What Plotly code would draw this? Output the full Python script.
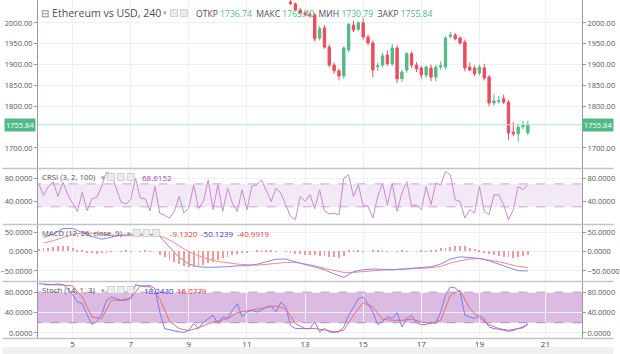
import plotly.graph_objects as go

# ---------------- data ----------------
N_BARS = 102                      # 4h bars visible in the indicator panes
LAST_DAY = 20 + 16 / 24           # time of the last bar (day of month)
bar_days = [LAST_DAY - (N_BARS - 1 - g) / 6 for g in range(N_BARS)]
half_days = bar_days[1::2]        # every second bar (8h sampling)
candle_days = bar_days[-50:]      # candles visible in the price pane

c_open = [2050, 2046, 2031, 2024, 2020, 2019, 1964, 1988, 1942, 1899, 1885, 1873, 1935, 1995, 1985,
          2000, 1966, 1952, 1895, 1899, 1923, 1902, 1940, 1866, 1887, 1926, 1899, 1892, 1875, 1892,
          1870, 1894, 1894, 1968, 1971, 1964, 1954, 1894, 1892, 1880, 1892, 1870, 1808, 1811, 1818,
          1810, 1738, 1734, 1751, 1736.74]
c_high = [2060, 2049, 2036, 2030, 2026, 2024, 1992, 1995, 1948, 1905, 1890, 1944, 2000, 2005, 2004,
          2012, 1972, 1958, 1905, 1928, 1934, 1950, 1946, 1888, 1930, 1932, 1906, 1897, 1898, 1900,
          1899, 1908, 1968, 1978, 1976, 1968, 1960, 1905, 1898, 1900, 1902, 1875, 1830, 1825, 1828,
          1815, 1762, 1758, 1765, 1765.40]
c_low = [2043, 2028, 2020, 2015, 2012, 1955, 1958, 1938, 1893, 1878, 1862, 1866, 1930, 1978, 1980,
         1960, 1946, 1870, 1885, 1893, 1897, 1896, 1856, 1858, 1880, 1892, 1882, 1866, 1868, 1860,
         1860, 1888, 1888, 1963, 1958, 1948, 1884, 1884, 1872, 1874, 1862, 1800, 1802, 1806, 1805,
         1720, 1728, 1715, 1745, 1730.79]
c_close = [2046, 2031, 2024, 2020, 2018, 1962, 1986, 1942, 1899, 1885, 1873, 1940, 1997, 1983, 2000,
           1966, 1952, 1887, 1897, 1921, 1902, 1940, 1866, 1882, 1926, 1899, 1890, 1875, 1894, 1870,
           1894, 1897, 1964, 1971, 1962, 1952, 1892, 1887, 1878, 1894, 1868, 1808, 1813, 1813, 1810,
           1736, 1734, 1750, 1754, 1755.84]
last_price = 1755.84

crsi = [70, 50, 65.5, 73, 48, 73, 51, 36.5, 22, 55.6, 23, 44, 46.4, 65.5, 90.4, 87, 62.6, 38.3, 34.8, 42.3,
        80, 45.2, 44, 23, 65.5, 19, 15, 10.4, 22, 48, 19, 28, 68.4, 26.7, 39.4, 77, 25, 68.4, 22, 62.6,
        36.5, 22, 59.7, 25, 65.5, 68.4, 77, 56.8, 39.4, 62.6, 53.9, 33.6, 13.3, 7.5,
        48, 39.4, 51, 26.7, 59.7, 23, 17.4, 19, 16.2, 80, 85.8, 48, 68.4, 32.5, 30.7, 10.4, 48, 71.3,
        33.6, 71.3, 22, 53.9, 74, 30.7, 33.6, 25, 65.5, 33.6, 71.3, 68.4, 91.6, 85.8, 42.3, 39.4, 10.4,
        25, 19, 65.5, 22, 16.2, 51, 51, 33.6, 7.5, 25, 65.5, 59.7, 68.6152]
crsi_band = [70, 30]

macd_line = [36, 44.4, 59, 59, 48.7, 38.5, 31.6, 36, 41.9, 43.6, 44.4, 44.4, 38.5, 10.3, -15.4, -32.5,
             -39.3, -41, -41, -39.3, -36.8, -36.8, -33.3, -26.5, -19.7, -19.7, -26.5, -33.3, -38.5, -47,
             -58.1, -66.7, -52.1, -47, -45.3, -47, -47, -45.3, -42.7, -41, -39.3, -32.5, -19.7, -13.7,
             -15.4, -18, -24, -32.5, -42.7, -49.6, -50.1239]
macd_signal = [21.4, 27.4, 35.9, 44.4, 47, 47, 44.4, 41.9, 40.2, 40.2, 40.2, 40.2, 40.2, 29.9, 14.5, -0.9,
               -11.1, -19.7, -25.6, -29.9, -32.5, -34.2, -35, -33.3, -29.9, -28.2, -28.2, -31.6, -36.8,
               -43.6, -49.6, -53.9, -53.9, -51.3, -49.6, -47.9, -47, -46.2, -45.3, -43.6, -41.9, -38.5,
               -29.9, -24, -19.7, -18, -21.4, -26.5, -32.5, -38.5, -40.9919]
macd_hist = [6, 8, 10, 12, 14, 15, 13, 10,
             4, 2, -2, -4, -6, -5, -3,
             -1, 0, 1, 2, 1, 0, 1, 2, 1, 0,
             -8, -15, -22, -28, -33, -38, -40, -40, -38, -35,
             -30, -26, -22, -18, -14, -10, -7, -4,
             -2, 0, 2, 3, 3, 2, 1, 0, -1,
             -4, -6, -7, -8, -9, -10, -11, -12, -14, -15, -16, -12,
             2, 4, 3, 1, 0, 2, 3, 2, 1, 0, 1, 2, 1, 0, 1, 2, 1,
             3, 5, 8, 10, 12, 14, 15, 13, 10, 7, 3,
             -3, -6, -9, -12, -14, -15, -16, -14, -12, -9.132]

stoch_k = [96.7, 96.1, 96.7, 94.8, 96.1, 94.8, 86.9, 75.2, 60.8, 57.5, 36, 16.3, 22.9, 36, 64.1, 70.6,
           67.3, 64.1, 64.1, 67.3, 94.8, 92.2, 92.2, 93.5, 86.9, 41.2, 8.5, 5.9, 3.3, 2, 1, 5.2, 18.3,
           8.5, 20.3, 26.8, 34.6, 18.3, 31.4, 28.1, 44.4, 57.5, 31.4, 41.2, 44.4, 41.2, 44.4, 51, 52.9,
           41.2, 60.8, 51, 15, 8.5, 8.5, 7.2, 8.5, 21.6, 2, 8.5, 2, 1, 2, 11.8, 34.6, 51, 67.3, 70.6,
           57.5, 41.2, 16.3, 22.9, 31.4, 28.1, 39.9, 11.8, 28.1, 34.6, 20.3, 16.3, 16.3, 21.6, 18.3,
           41.2, 73.9, 90.2, 88.2, 80.4, 34.6, 31.4, 28.1, 34.6, 26.8, 11.8, 8.5, 7.2, 5.2, 3.3, 4.6,
           8.5, 9.8, 18.243]
stoch_d = [94.8, 94.8, 94.1, 92.2, 70.6, 31.4, 28.1, 64.1, 64.1, 68.6, 92.2, 90.2, 67.3, 22.9, 8.5, 4.6,
           9.8, 18.3, 22.9, 28.1, 39.9, 42.5, 46.4, 50.3, 52.9, 47.7, 18.3, 8.5, 8.5, 5.9, 2, 5.2, 34.6,
           59.5, 51, 26.8, 24.8, 24.8, 26.8, 21.6, 18.3, 24.8, 73.9, 83.7, 47.7, 29.4, 16.3, 8.5, 5.2,
           8.5, 16.0779]
stoch_band = [80, 20]

x_tickvals = [5, 7, 9, 11, 13, 15, 17, 19, 21.27]
x_ticktext = ["5", "7", "9", "11", "13", "15", "17", "19", "21"]
price_ticks = [1700, 1800, 1850, 1900, 1950, 2000]

# ---------------- styling ----------------
UP, DOWN = "#53b987", "#eb4d5c"
FONT = "Open Sans"
W, H = 620, 354
L, R, T, B = 36, 32, 0, 16
PW, PH = W - L - R, H - T - B


def px(x, y):
    return (x - L) / PW, 1 - (y - T) / PH


def dom(top, bottom):
    return [1 - bottom / PH, 1 - top / PH]


fig = go.Figure()

fig.add_trace(go.Candlestick(
    x=candle_days, open=c_open, high=c_high, low=c_low, close=c_close,
    increasing=dict(line=dict(color=UP, width=1), fillcolor=UP),
    decreasing=dict(line=dict(color=DOWN, width=1), fillcolor=DOWN),
    whiskerwidth=0, yaxis="y", showlegend=False, hoverinfo="skip"))
fig.add_trace(go.Scatter(x=[bar_days[0] - 1, 23], y=[last_price, last_price], mode="lines",
                         line=dict(color="#b5e1cb", width=1), yaxis="y5", showlegend=False,
                         hoverinfo="skip"))

# CRSI
for lv in crsi_band:
    fig.add_trace(go.Scatter(x=[3, 23], y=[lv, lv], mode="lines",
                             line=dict(color="#c9a3cf", width=1, dash="dash"),
                             yaxis="y6", showlegend=False, hoverinfo="skip"))
fig.add_trace(go.Scatter(x=bar_days, y=crsi, mode="lines", line=dict(color="#c88ad2", width=1),
                         yaxis="y2", showlegend=False, hoverinfo="skip"))

# MACD
fig.add_trace(go.Bar(x=bar_days, y=macd_hist, width=0.03, marker=dict(color="#f29a9a", line=dict(width=0)),
                     yaxis="y7", showlegend=False, hoverinfo="skip"))
fig.add_trace(go.Scatter(x=half_days, y=macd_signal, mode="lines", line=dict(color="#f28b8b", width=1),
                         yaxis="y3", showlegend=False, hoverinfo="skip"))
fig.add_trace(go.Scatter(x=half_days, y=macd_line, mode="lines", line=dict(color="#8585f0", width=1),
                         yaxis="y3", showlegend=False, hoverinfo="skip"))

# Stoch
for lv in stoch_band:
    fig.add_trace(go.Scatter(x=[3, 23], y=[lv, lv], mode="lines",
                             line=dict(color="#b48cbc", width=1, dash="dash"),
                             yaxis="y8", showlegend=False, hoverinfo="skip"))
fig.add_trace(go.Scatter(x=half_days, y=stoch_d, mode="lines", line=dict(color="#ef6b6b", width=1),
                         yaxis="y4", showlegend=False, hoverinfo="skip"))
fig.add_trace(go.Scatter(x=bar_days, y=stoch_k, mode="lines", line=dict(color="#7a7af0", width=1),
                         yaxis="y4", showlegend=False, hoverinfo="skip"))

# ---------------- axes ----------------
GRID = "#eef1f4"
TICKF = dict(family=FONT, size=7.5, color="#555")
panes = [
    ("yaxis", "yaxis5", dom(0, 168), [1652, 2055], price_ticks, ".2f"),
    ("yaxis2", "yaxis6", dom(169, 224), [0, 96], [40, 80], ".4f"),
    ("yaxis3", "yaxis7", dom(225, 281), [-76, 68], [-50, 0, 50], ".4f"),
    ("yaxis4", "yaxis8", dom(282, 338), [-10, 100], [0, 40, 80], ".4f"),
]
layout_axes = {}
for i, (rname, lname, d, rng, tv, fmt) in enumerate(panes):
    base = "y" if i == 0 else "y%d" % (i + 1)
    layout_axes[rname] = dict(domain=d, range=rng, side="right", anchor="x", tickvals=tv,
                              tickformat=fmt, tickfont=TICKF, showgrid=True, gridcolor=GRID,
                              zeroline=False, showline=True, linecolor="#9a9a9a", linewidth=1,
                              ticks="outside", ticklen=3, tickcolor="#9a9a9a", fixedrange=True)
    layout_axes[lname] = dict(overlaying=base, range=rng, side="left", anchor="x", tickvals=tv,
                              tickformat=fmt, tickfont=TICKF, showgrid=False, zeroline=False,
                              showline=True, linecolor="#9a9a9a", linewidth=1,
                              ticks="outside", ticklen=3, tickcolor="#9a9a9a", fixedrange=True)

fig.update_layout(
    width=W, height=H, margin=dict(l=L, r=R, t=T, b=B),
    paper_bgcolor="white", plot_bgcolor="white", showlegend=False,
    font=dict(family=FONT, color="#444"), bargap=0,
    xaxis=dict(range=[3.81, 22.53], anchor="y4", tickvals=x_tickvals, ticktext=x_ticktext,
               tickfont=dict(family=FONT, size=8, color="#444"), showgrid=True, gridcolor=GRID,
               zeroline=False, showline=False, ticks="", rangeslider=dict(visible=False),
               fixedrange=True),
    **layout_axes,
)

# ---------------- bands & separators ----------------
shapes = []
shapes.append(dict(type="rect", xref="x domain", yref="y2", x0=0, x1=1, y0=crsi_band[1], y1=crsi_band[0],
                   fillcolor="rgba(150,50,170,0.11)", line=dict(width=0), layer="below"))
shapes.append(dict(type="rect", xref="x domain", yref="y4", x0=0, x1=1, y0=stoch_band[1], y1=stoch_band[0],
                   fillcolor="rgba(150,50,170,0.33)", line=dict(width=0), layer="below"))
for yy in [168.5, 224.5, 281.5, 338.5]:
    _, yp = px(0, yy)
    shapes.append(dict(type="line", xref="paper", yref="paper", x0=-L / PW, x1=1 + R / PW, y0=yp, y1=yp,
                       line=dict(color="#c4c4c4", width=1.5)))
_, yb0 = px(0, 347)
_, yb1 = px(0, 354)
shapes.append(dict(type="rect", xref="paper", yref="paper", x0=-L / PW, x1=1 + R / PW, y0=yb1, y1=yb0,
                   fillcolor="#f0f0f0", line=dict(width=0), layer="below"))
# small legend button boxes
for (bx, by) in [(174, 13), (184, 13), (110, 177), (120, 177), (130, 177),
                 (136, 233), (146, 233), (156, 233), (110, 290), (120, 290), (130, 290)]:
    x0, y0 = px(bx - 3.5, by - 3.5)
    x1, y1 = px(bx + 3.5, by + 3.5)
    shapes.append(dict(type="rect", xref="paper", yref="paper", x0=x0, x1=x1, y0=y1, y1=y0,
                       fillcolor="#ececec", line=dict(color="#c8c8c8", width=0.8)))
fig.update_layout(shapes=shapes)

# ---------------- texts ----------------
ann = []


def txt(x, y, s, size=9, color="#444", anchor="left"):
    xp, yp = px(x, y)
    ann.append(dict(x=xp, y=yp, xref="paper", yref="paper", text=s, showarrow=False, xanchor=anchor,
                    yanchor="middle", font=dict(family=FONT, size=size, color=color)))


G = "#53b987"
txt(37, 13, "⊟", 10, "#777")
txt(48, 13, "Ethereum vs USD, 240", 10.6, "#4a4f5a")
txt(161, 13, "▾", 7, "#999")
txt(194, 14, "ОТКР <span style='color:%s'>1736.74</span>  МАКС <span style='color:%s'>1765.40</span>  "
             "МИН <span style='color:%s'>1730.79</span>  ЗАКР <span style='color:%s'>1755.84</span>"
    % (G, G, G, G), 8.6, "#4a4f5a")

txt(38, 177, "CRSI (3, 2, 100)", 7.8, "#555")
txt(98, 177, "▾", 6.5, "#999")
txt(140, 177, "68.6152", 8, "#a03cb2")

txt(38, 233, "MACD (12, 26, close, 9)", 7.6, "#555")
txt(124, 233, "▾", 6.5, "#999")
txt(168, 233, "-9.1320", 8, "#e53935")
txt(199, 233, "-50.1239", 8, "#3535d8")
txt(236, 233, "-40.9919", 8, "#e53935")

txt(38, 290, "Stoch (14, 1, 3)", 7.8, "#555")
txt(98, 290, "▾", 6.5, "#999")
txt(142, 290, "18.2430", 8, "#3535d8")
txt(175, 290, "16.0779", 8, "#e53935")

for side_x in [-0.5 * L / PW, 1 + 0.5 * R / PW]:
    ann.append(dict(x=side_x, y=last_price, xref="paper", yref="y", text="1755.84", showarrow=False,
                    xanchor="center", yanchor="middle", bgcolor=UP, borderpad=1,
                    font=dict(family=FONT, size=7.5, color="white")))

fig.update_layout(annotations=ann)
fig.write_html("out.html")
